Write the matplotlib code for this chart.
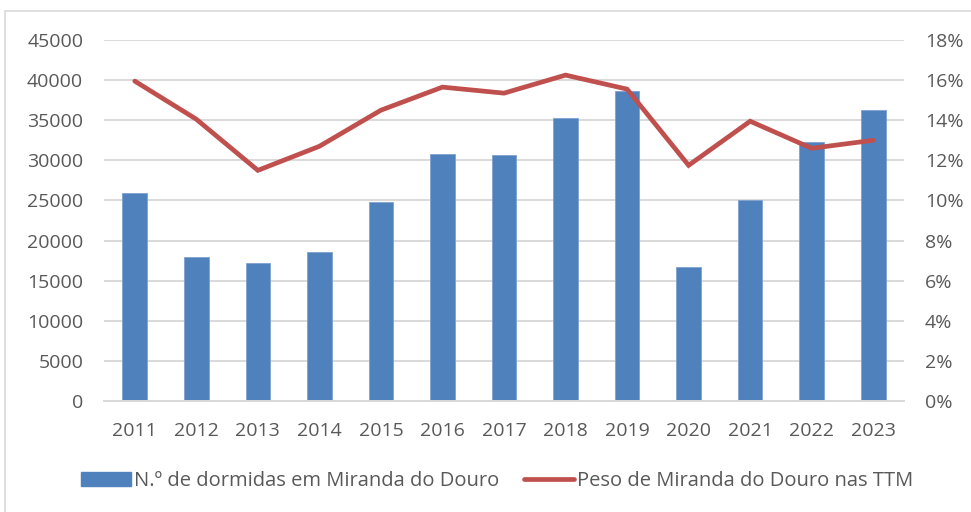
import matplotlib
matplotlib.use("Agg")
import matplotlib.pyplot as plt
from matplotlib.lines import Line2D
from matplotlib.patches import Patch, Rectangle
from matplotlib.ticker import FuncFormatter
import numpy as np

plt.rcParams['font.family'] = ['Liberation Sans Narrow', 'Open Sans', 'DejaVu Sans']

years = ["2011", "2012", "2013", "2014", "2015", "2016", "2017",
         "2018", "2019", "2020", "2021", "2022", "2023"]
dormidas = [25900, 18000, 17200, 18550, 24800, 30800, 30700,
            35250, 38650, 16700, 25100, 32300, 36300]
peso = [15.95, 14.05, 11.5, 12.7, 14.5, 15.65, 15.35,
        16.25, 15.55, 11.75, 13.95, 12.6, 13.0]

bar_color = "#4F81BD"
line_color = "#C0504D"
text_color = "#595959"

fig = plt.figure(figsize=(9.71, 5.12), dpi=100)
ax = fig.add_axes([104 / 971, 1 - 401 / 512, 800 / 971, 361 / 512])
ax2 = ax.twinx()

x = np.arange(len(years))
ax.bar(x, dormidas, width=0.4, color=bar_color, edgecolor="#7FA2D0",
       linewidth=0.6, zorder=2)
ax2.plot(x, peso, color=line_color, linewidth=3.4, solid_capstyle="round",
         solid_joinstyle="miter", zorder=3)

ax.set_xlim(-0.5, len(years) - 0.5)
ax.set_ylim(0, 45000)
ax.set_yticks(np.arange(0, 45001, 5000))
ax2.set_ylim(0, 18)
ax2.set_yticks(np.arange(0, 19, 2))
ax2.yaxis.set_major_formatter(FuncFormatter(lambda v, p: f"{v:.0f}%"))

ax.set_xticks(x)
ax.set_xticklabels(years)
ax.grid(axis="y", color="#D9D9D9", linewidth=1.4, zorder=0)
ax.set_axisbelow(True)

for a in (ax, ax2):
    for s in a.spines.values():
        s.set_visible(False)
    a.tick_params(length=0, labelsize=14, colors=text_color)
ax.spines["bottom"].set_visible(True)
ax.spines["bottom"].set_color("#D9D9D9")
ax.spines["bottom"].set_linewidth(1.4)
ax.tick_params(axis="y", pad=15)
ax.tick_params(axis="x", pad=15)
ax2.tick_params(axis="y", pad=15)

# outer chart border
fig.patches.append(Rectangle((5 / 971, -0.01), 1.0, 1 - 11 / 512 + 0.01,
                             transform=fig.transFigure, fill=False,
                             edgecolor="#D9D9D9", linewidth=1.2))

handles = [Patch(facecolor=bar_color, edgecolor=bar_color),
           Line2D([0], [0], color=line_color, linewidth=3.4, solid_capstyle="round")]
labels = ["N.º de dormidas em Miranda do Douro", "Peso de Miranda do Douro nas TTM"]
fig.legend(handles, labels, loc="center", bbox_to_anchor=(0.512, 1 - 481 / 512),
           ncol=2, frameon=False, fontsize=14.5, labelcolor=text_color,
           handlelength=2.5, handletextpad=0.15, columnspacing=1.2)

fig.savefig("out.png", dpi=100, facecolor="white")
